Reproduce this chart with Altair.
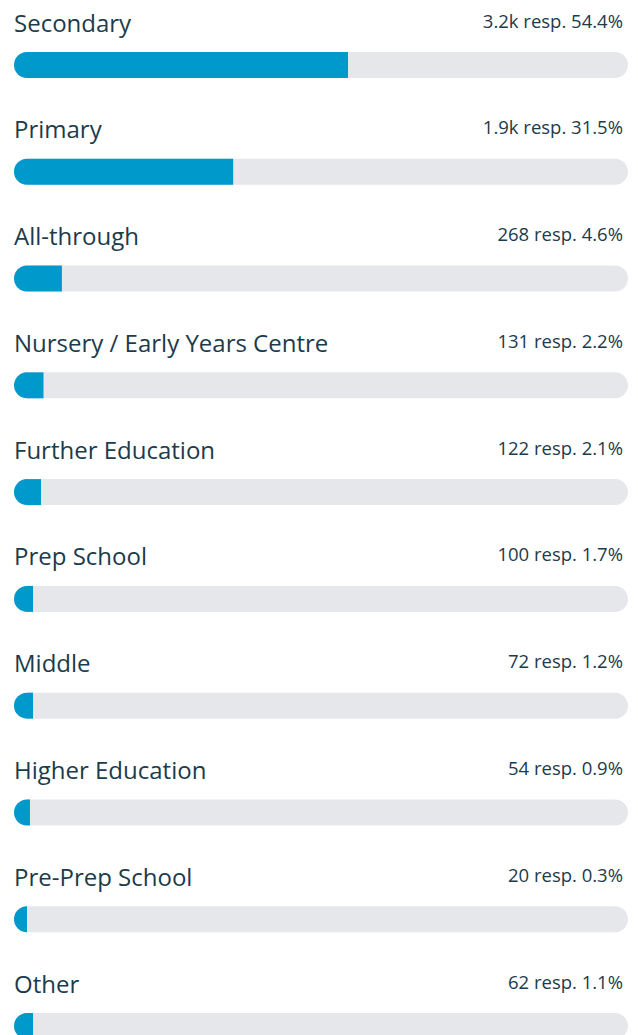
import math
import altair as alt
import pandas as pd

categories = ["Secondary", "Primary", "All-through", "Nursery / Early Years Centre",
              "Further Education", "Prep School", "Middle", "Higher Education",
              "Pre-Prep School", "Other"]
responses = ["3.2k", "1.9k", "268", "131", "122", "100", "72", "54", "20", "62"]
percents = [54.4, 31.5, 4.6, 2.2, 2.1, 1.7, 1.2, 0.9, 0.3, 1.1]
# filled share of each track as drawn in the picture (percent of track length)
fill_share = [54.4, 35.7, 7.8, 4.8, 4.4, 3.1, 3.1, 2.6, 2.1, 3.1]

df = pd.DataFrame({
    "row": list(range(len(categories))),
    "category": categories,
    "value_label": [f"{r} resp. {p}%" for r, p in zip(responses, percents)],
    "fill": fill_share,
    "start": [0] * len(categories),
    "end": [100] * len(categories),
})

TEXT = "#1c3b4b"
BLUE = "#0099cc"
TRACK = "#e6e7eb"
R = 13

x_scale = alt.Scale(domain=[0, 100], range=[0, 614], padding=0, nice=False)
y_scale = alt.Scale(domain=[0, 9], range=[53, 1014], padding=0, nice=False)

base = alt.Chart(df)

track = base.mark_bar(height=2 * R, cornerRadius=R, color=TRACK).encode(
    x=alt.X("start:Q", scale=x_scale, axis=None),
    x2="end:Q",
    y=alt.Y("row:Q", scale=y_scale, axis=None),
)

# rounded left cap of the fill (half circle)
cap = base.mark_arc(radius=R, theta=math.pi, theta2=2 * math.pi, xOffset=R,
                    color=BLUE).encode(
    x=alt.X("start:Q", scale=x_scale, axis=None),
    y=alt.Y("row:Q", scale=y_scale, axis=None),
)

fill = base.mark_bar(height=2 * R, xOffset=R, x2Offset=0, color=BLUE).encode(
    x=alt.X("start:Q", scale=x_scale, axis=None),
    x2="fill:Q",
    y=alt.Y("row:Q", scale=y_scale, axis=None),
)

labels = base.mark_text(align="left", baseline="alphabetic", dy=-33.5, dx=0,
                        font="Open Sans", fontSize=24, color=TEXT).encode(
    x=alt.X("start:Q", scale=x_scale, axis=None),
    y=alt.Y("row:Q", scale=y_scale, axis=None),
    text="category:N",
)

values = base.mark_text(align="right", baseline="alphabetic", dy=-37.5, dx=-5,
                        font="Open Sans", fontSize=18.5, color=TEXT).encode(
    x=alt.X("end:Q", scale=x_scale, axis=None),
    y=alt.Y("row:Q", scale=y_scale, axis=None),
    text="value_label:N",
)

chart = alt.layer(track, cap, fill, labels, values).properties(
    width=614,
    height=1023,
    background="white",
    autosize=alt.AutoSizeParams(type="none"),
    padding={"left": 6, "top": 4, "right": 0, "bottom": 0},
).configure_view(strokeWidth=0, stroke="transparent")

chart.save("out.html", embed_options={"renderer": "svg", "actions": False})
